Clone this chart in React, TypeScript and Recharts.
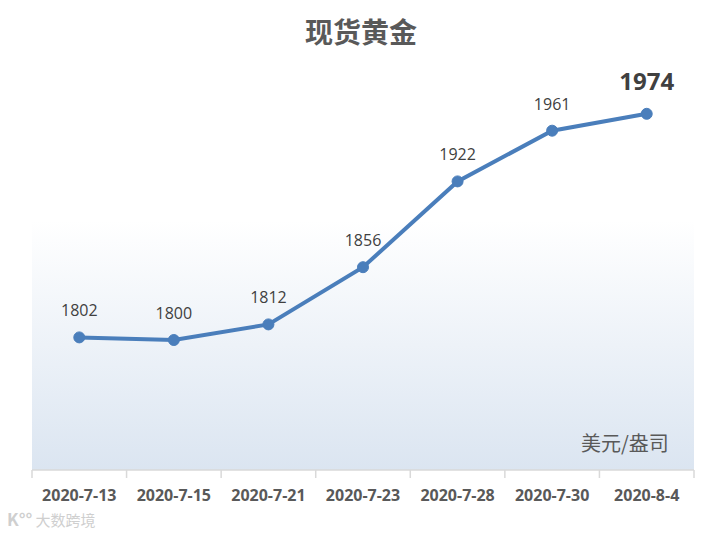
import React from "react";
import { LineChart, Line, XAxis, YAxis, CartesianGrid, LabelList } from "recharts";

const dates = ["2020-7-13", "2020-7-15", "2020-7-21", "2020-7-23", "2020-7-28", "2020-7-30", "2020-8-4"];
const prices = [1802, 1800, 1812, 1856, 1922, 1961, 1974];
const title = "现货黄金";
const unit = "美元/盎司";
const watermark = "大数跨境";

const data = dates.map((d, i) => ({ date: d, price: prices[i] }));

const W = 722;
const H = 537;
const M = { top: 80, right: 28, left: 32, bottom: 37 };
const BAND = (W - M.left - M.right) / dates.length;
const LINE_COLOR = "#4a7ebb";

function DateTick(props: any) {
  const { x, y, payload, index } = props;
  const last = index === dates.length - 1;
  return (
    <g>
      <line x1={x - BAND / 2} x2={x - BAND / 2} y1={y} y2={y + 8} stroke="#d9d9d9" strokeWidth={1.5} />
      {last && <line x1={x + BAND / 2} x2={x + BAND / 2} y1={y} y2={y + 8} stroke="#d9d9d9" strokeWidth={1.5} />}
      <text
        x={x}
        y={y + 31}
        textAnchor="middle"
        fill="#595959"
        fontSize={16}
        fontWeight="bold"
        fontFamily="'Open Sans', sans-serif"
      >
        {payload.value}
      </text>
    </g>
  );
}

function PriceLabel(props: any) {
  const { x, y, value, index } = props;
  const last = index === prices.length - 1;
  return (
    <text
      x={x}
      y={last ? y - 24 : y - 21}
      textAnchor="middle"
      fill="#404040"
      fontSize={last ? 24 : 16}
      fontWeight={last ? "bold" : "normal"}
      fontFamily="'Open Sans', sans-serif"
    >
      {value}
    </text>
  );
}

export default function App() {
  return (
    <div style={{ position: "absolute", left: 0, top: 0, width: W, height: H, background: "#fff" }}>
      <div
        style={{
          position: "absolute",
          left: 0,
          top: 11,
          width: W,
          textAlign: "center",
          fontFamily: "'Noto Sans CJK SC', sans-serif",
          fontWeight: "bold",
          fontSize: 28,
          color: "#595959",
          lineHeight: "40px",
        }}
      >
        {title}
      </div>
      <LineChart width={W} height={H} data={data} margin={M}>
        <defs>
          <linearGradient id="bgGrad" x1="0" y1="0" x2="0" y2="1">
            <stop offset="0" stopColor="#ffffff" />
            <stop offset="0.36" stopColor="#ffffff" />
            <stop offset="1" stopColor="#dbe5f1" />
          </linearGradient>
        </defs>
        <CartesianGrid horizontal={false} vertical={false} fill="url(#bgGrad)" stroke="none" />
        <XAxis
          dataKey="date"
          stroke="#d9d9d9"
          strokeWidth={1.5}
          tickLine={false}
          tickSize={0}
          tickMargin={0}
          height={30}
          interval={0}
          padding={{ left: BAND / 2, right: BAND / 2 }}
          tick={<DateTick />}
        />
        <YAxis hide domain={[1700, 2000]} />
        <Line
          type="linear"
          dataKey="price"
          stroke={LINE_COLOR}
          strokeWidth={4}
          dot={{ r: 5.5, fill: LINE_COLOR, stroke: LINE_COLOR, strokeWidth: 1 }}
          isAnimationActive={false}
        >
          <LabelList dataKey="price" content={<PriceLabel />} />
        </Line>
      </LineChart>
      <div
        style={{
          position: "absolute",
          left: 581,
          top: 429,
          fontFamily: "'Noto Sans CJK SC', sans-serif",
          fontSize: 20,
          color: "#595959",
          lineHeight: "28px",
        }}
      >
        {unit}
      </div>
      <div
        style={{
          position: "absolute",
          left: 7,
          top: 508,
          fontFamily: "'Noto Sans CJK SC', sans-serif",
          fontSize: 15,
          color: "#cfcfcf",
          lineHeight: "22px",
          whiteSpace: "nowrap",
        }}
      >
        <span style={{ fontSize: 17, fontWeight: "bold", marginRight: 3 }}>K°°</span>
        {watermark}
      </div>
    </div>
  );
}
